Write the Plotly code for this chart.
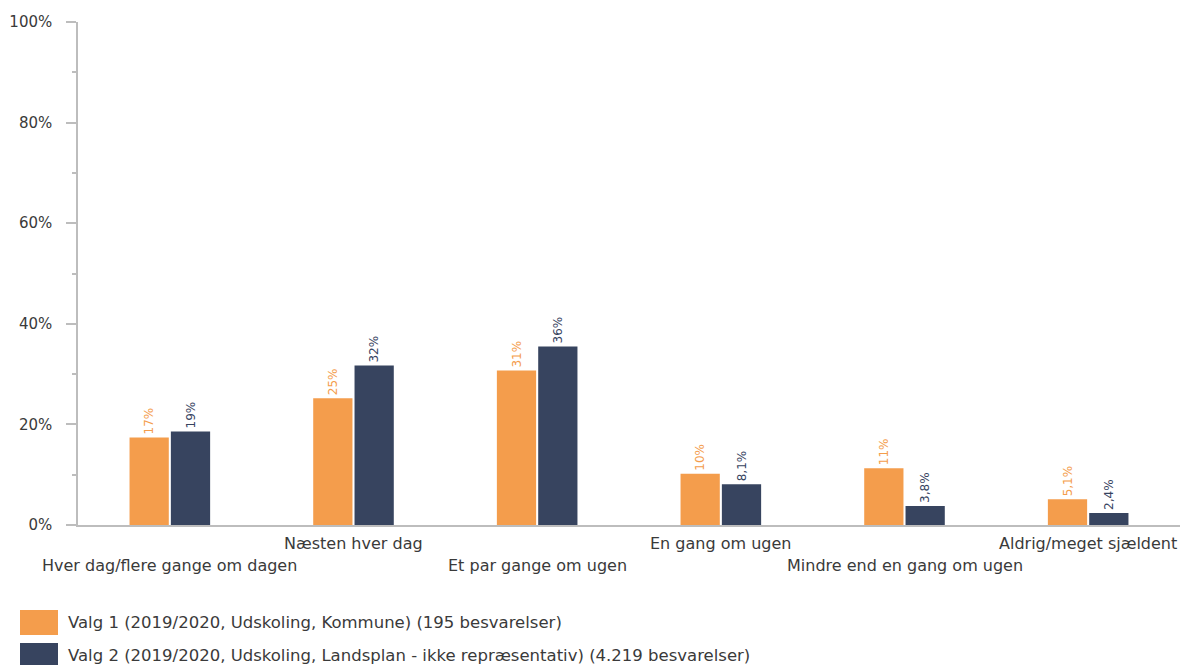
import plotly.graph_objects as go

# Response categories (x axis)
categories = [
    "Hver dag/flere gange om dagen",
    "Næsten hver dag",
    "Et par gange om ugen",
    "En gang om ugen",
    "Mindre end en gang om ugen",
    "Aldrig/meget sjældent",
]

# Share of answers in percent
kommune = [17.4, 25.2, 30.7, 10.2, 11.3, 5.1]
landsplan = [18.6, 31.7, 35.5, 8.1, 3.8, 2.4]

series_names = [
    "Valg 1 (2019/2020, Udskoling, Kommune) (195 besvarelser)",
    "Valg 2 (2019/2020, Udskoling, Landsplan - ikke repræsentativ) (4.219 besvarelser)",
]
series_colors = ["#F49D4C", "#37445F"]

y_tickvals = [0, 20, 40, 60, 80, 100]
y_ticktext = ["0%", "20%", "40%", "60%", "80%", "100%"]


def da_label(v):
    # whole percent from 10 and up, one decimal (comma) below
    if v >= 10:
        return f"{round(v):d}%"
    return f"{v:.1f}".replace(".", ",") + "%"


W, H = 1183, 665
L, R, T, B = 78, 3, 22, 140
PW, PH = W - L - R, H - T - B
FONT = "DejaVu Sans, Verdana, sans-serif"
TEXT = "#3a3a3a"
AXIS = "#bdbdbd"


def px_x(x):
    return (x - L) / PW


def px_y(y):
    return (H - B - y) / PH


fig = go.Figure()
for name, vals, col in zip(series_names, [kommune, landsplan], series_colors):
    fig.add_trace(go.Bar(
        x=categories,
        y=vals,
        name=name,
        marker=dict(color=col, line=dict(width=0)),
        text=[da_label(v) for v in vals],
        textposition="outside",
        textangle=-90,
        textfont=dict(family=FONT, size=12, color=col),
        constraintext="none",
        cliponaxis=False,
        showlegend=False,
    ))

# category labels in two staggered rows
for i, cat in enumerate(categories):
    fig.add_annotation(
        x=cat, xref="x", y=0, yref="paper",
        text=cat, showarrow=False,
        xanchor="center", yanchor="middle",
        yshift=-40 if i % 2 == 0 else -18,
        font=dict(family=FONT, size=16, color=TEXT),
    )

# legend block below the chart
legend_rows = [(610, 635, 622), (643, 668, 655)]
for (y0, y1, yc), name, col in zip(legend_rows, series_names, series_colors):
    fig.add_shape(
        type="rect", xref="paper", yref="paper",
        x0=px_x(20), x1=px_x(58), y0=px_y(y1), y1=px_y(y0),
        fillcolor=col, line=dict(width=0),
    )
    fig.add_annotation(
        x=px_x(66), xref="paper", y=px_y(yc), yref="paper",
        text=name, showarrow=False, xanchor="left", yanchor="middle",
        font=dict(family=FONT, size=16.5, color=TEXT),
    )

fig.update_layout(
    width=W, height=H,
    margin=dict(l=L, r=R, t=T, b=B, pad=0),
    plot_bgcolor="white", paper_bgcolor="white",
    barmode="group", bargap=0.55, bargroupgap=0.05,
    showlegend=False,
    font=dict(family=FONT, color=TEXT),
)
fig.update_xaxes(
    range=[-0.5, 5.5], showticklabels=False, ticks="",
    showline=True, linecolor=AXIS, linewidth=1.5, showgrid=False, zeroline=False,
)
fig.update_yaxes(
    range=[0, 100], tickvals=y_tickvals, ticktext=y_ticktext,
    ticks="outside", ticklen=10, tickcolor=AXIS, tickwidth=1.5,
    minor=dict(dtick=10, ticks="outside", ticklen=4, tickcolor=AXIS, tickwidth=1.5),
    showline=True, linecolor=AXIS, linewidth=1.5, showgrid=False, zeroline=False,
    tickfont=dict(family=FONT, size=15, color=TEXT), ticklabelstandoff=11,
)

fig.write_html("out.html")
